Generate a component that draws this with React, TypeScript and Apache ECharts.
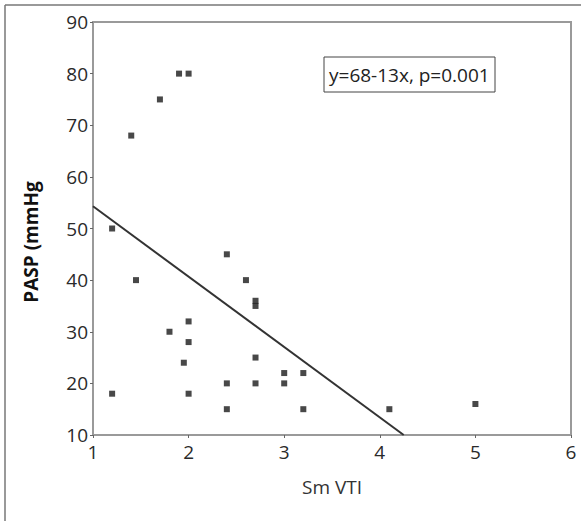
import React, { useEffect, useRef } from "react";
import * as echarts from "echarts";

const smVti = [1.2, 1.45, 1.2, 2.4, 2.6, 2.7, 2.7, 2.0, 1.8, 2.0, 1.95, 2.0, 2.4, 2.4, 2.7, 2.7, 3.0, 3.0, 3.2, 3.2, 4.1, 5.0, 1.9, 2.0, 1.7, 1.4];
const pasp = [50, 40, 18, 45, 40, 36, 35, 32, 30, 28, 24, 18, 20, 15, 25, 20, 22, 20, 22, 15, 15, 16, 80, 80, 75, 68];
const fitX = [1, 4.25];
const fitY = [54.3, 10];
const xTicks = [1, 2, 3, 4, 5, 6];
const yTicks = [10, 20, 30, 40, 50, 60, 70, 80, 90];
const annotation = "y=68-13x, p=0.001";
const xName = "Sm VTI";
const yName = "PASP (mmHg";

export default function App() {
  const ref = useRef<HTMLDivElement>(null);
  useEffect(() => {
    if (!ref.current) return;
    const chart = echarts.init(ref.current, undefined, { renderer: "svg" });
    const font = "'Open Sans', sans-serif";
    chart.setOption({
      animation: false,
      backgroundColor: "#fff",
      grid: { left: 93, top: 22, right: 14, bottom: 86, show: true, borderColor: "#9a9a9a", borderWidth: 2 },
      xAxis: {
        type: "value",
        min: xTicks[0],
        max: xTicks[xTicks.length - 1],
        interval: 1,
        splitLine: { show: false },
        axisLine: { lineStyle: { color: "#9a9a9a", width: 2 } },
        axisTick: { show: true, length: 3, lineStyle: { color: "#666" } },
        axisLabel: { color: "#2a2a2a", fontSize: 19, fontFamily: font, margin: 7 },
        name: xName,
        nameLocation: "middle",
        nameGap: 42,
        nameTextStyle: { color: "#333", fontSize: 19, fontFamily: font },
      },
      yAxis: {
        type: "value",
        min: yTicks[0],
        max: yTicks[yTicks.length - 1],
        interval: 10,
        splitLine: { show: false },
        axisLine: { lineStyle: { color: "#9a9a9a", width: 2 } },
        axisTick: { show: true, length: 3, lineStyle: { color: "#666" } },
        axisLabel: { color: "#2a2a2a", fontSize: 19, fontFamily: font, margin: 5 },
      },
      graphic: [
        { type: "line", shape: { x1: 5, y1: 5, x2: 581, y2: 5 }, style: { stroke: "#777", lineWidth: 1.5 } },
        { type: "line", shape: { x1: 5, y1: 5, x2: 5, y2: 521 }, style: { stroke: "#777", lineWidth: 1.5 } },
        { type: "rect", shape: { x: 324, y: 57, width: 171, height: 35 }, style: { fill: "#fff", stroke: "#444", lineWidth: 1 } },
        { type: "text", x: 329, y: 75, style: { text: annotation, fill: "#222", fontSize: 19, fontFamily: font, textVerticalAlign: "middle" } },
        { type: "text", x: 31, y: 242, rotation: Math.PI / 2, style: { text: yName, fill: "#111", fontSize: 19, fontWeight: "bold", fontFamily: font, textAlign: "center", textVerticalAlign: "middle" } },
      ],
      series: [
        {
          type: "scatter",
          data: smVti.map((x, i) => [x, pasp[i]]),
          symbol: "rect",
          symbolSize: 6,
          itemStyle: { color: "#1a1a1a" },
        },
        {
          type: "line",
          data: fitX.map((x, i) => [x, fitY[i]]),
          symbol: "none",
          lineStyle: { color: "#333", width: 2 },
        },
      ],
    });
    return () => chart.dispose();
  }, []);
  return <div ref={ref} style={{ position: "absolute", left: 0, top: 0, width: 585, height: 521 }} />;
}
